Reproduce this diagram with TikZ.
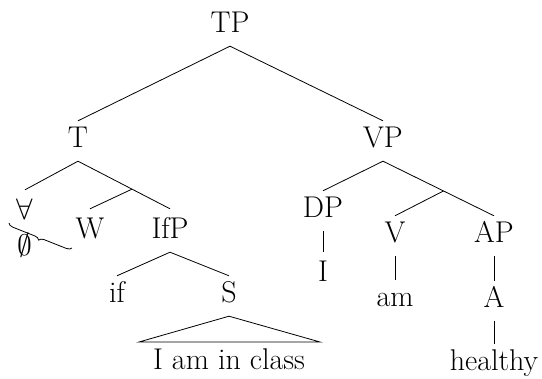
\documentclass[tikz,border=0pt]{standalone}
\usepackage{fontspec}
\usetikzlibrary{decorations.pathreplacing,calc}
\newcommand{\bigsym}[1]{\scalebox{1.19}{\fontsize{24.88}{30}\selectfont$#1$}}
\begin{document}
\begin{tikzpicture}[x=1pt,y=-1pt,
  lbl/.style={inner sep=0pt, text height=27pt, text depth=13pt, anchor=base,
              font=\fontsize{30}{35}\selectfont},
  lblh/.style={lbl, text height=30pt},
  edge/.style={line width=0.8pt},
  bracestyle/.style={line width=0.8pt, decorate,
              decoration={brace, amplitude=5pt, mirror}}]
\useasboundingbox (0,0) rectangle (542,379);
% nodes
\node[lbl]  (TP)  at (230,33)  {TP};
\node[lbl]  (T)   at (78,148)  {T};
\node[lbl]  (VP)  at (383,148) {VP};
\node[lblh] (fa)  at (25,220)  {\bigsym{\forall}};
\node[lblh] (W)   at (90,239)  {W};
\node[lblh] (IfP) at (170,239) {IfP};
\node[lbl]  (es)  at (25,256)  {\bigsym{\emptyset}};
\node[lbl]  (if)  at (117,303) {if};
\node[lbl]  (S)   at (229,303) {S};
\node[lbl]  (cls) at (229,370) {I am in class};
\node[lbl]  (DP)  at (323,218) {DP};
\node[lbl]  (V)   at (395,243) {V};
\node[lbl]  (AP)  at (494,243) {AP};
\node[lblh] (I)   at (323,282) {I};
\node[lbl]  (am)  at (395,307) {am};
\node[lbl]  (A)   at (494,308) {A};
\node[lbl]  (hl)  at (494,371) {healthy};
\coordinate (e1) at ($(T.south)!0.587!(IfP.north)$);
\coordinate (e2) at ($(VP.south)!0.545!(AP.north)$);
\coordinate (tl) at (139,342);
\coordinate (tr) at (320,342);
\coordinate (b1) at (9,223);
\coordinate (b2) at (72,248);
% edges
\draw[edge] (TP.south) -- (T.north);
\draw[edge] (TP.south) -- (VP.north);
\draw[edge] (T.south) -- (fa.north);
\draw[edge] (T.south) -- (e1) -- (IfP.north);
\draw[edge] (e1) -- (W.north);
\draw[edge] (IfP.south) -- (if.north);
\draw[edge] (IfP.south) -- (S.north);
\draw[edge] (S.south) -- (tl) -- (tr) -- cycle;
\draw[edge] (VP.south) -- (DP.north);
\draw[edge] (VP.south) -- (e2) -- (AP.north);
\draw[edge] (e2) -- (V.north);
\draw[edge] (DP.south) -- (I.north);
\draw[edge] (V.south) -- (am.north);
\draw[edge] (AP.south) -- (A.north);
\draw[edge] (A.south) -- (hl.north);
\draw[bracestyle] (b1) -- (b2);
\end{tikzpicture}
\end{document}
